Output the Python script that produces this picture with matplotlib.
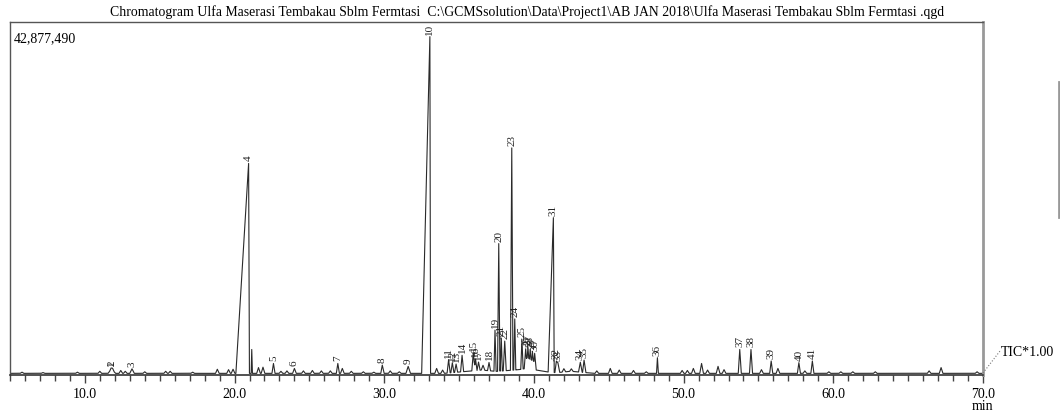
import numpy as np
import matplotlib
matplotlib.use("Agg")
import matplotlib.pyplot as plt
from matplotlib.lines import Line2D
from matplotlib.ticker import MultipleLocator, FormatStrFormatter

plt.rcParams["font.family"] = ["Liberation Serif", "DejaVu Serif"]

TITLE = ("Chromatogram Ulfa Maserasi Tembakau Sblm Fermtasi  "
         "C:\\GCMSsolution\\Data\\Project1\\AB JAN 2018\\"
         "Ulfa Maserasi Tembakau Sblm Fermtasi .qgd")
FULL_SCALE = 42877490

# numbered peaks: retention time (min), height (counts, millions)
peak_no = [1, 2, 3, 4, 5, 6, 7, 8, 9, 10,
           11, 12, 13, 14, 15, 16, 17, 18, 19, 20,
           21, 22, 23, 24, 25, 26, 27, 28, 29, 30,
           31, 32, 33, 34, 35, 36, 37, 38, 39, 40, 41]
peak_rt = [11.75, 11.85, 13.15, 20.94, 22.6, 24.0, 26.9, 29.87, 31.6, 33.05,
           34.3, 34.55, 34.8, 35.2, 35.95, 36.1, 36.3, 37.0, 37.4, 37.65,
           37.82, 38.05, 38.52, 38.72, 39.2, 39.45, 39.6, 39.75, 39.9, 40.05,
           41.3, 41.5, 41.6, 43.1, 43.35, 48.25, 53.75, 54.5, 55.85, 57.7, 58.6]
peak_h = [0.45, 0.4, 0.55, 25.5, 1.2, 0.6, 1.2, 1.0, 0.85, 40.9,
          1.6, 1.2, 1.0, 2.0, 2.2, 1.4, 1.0, 1.0, 5.0, 15.5,
          4.0, 3.6, 27.0, 6.2, 3.6, 2.4, 2.6, 2.4, 2.2, 2.0,
          18.8, 1.4, 1.2, 1.2, 1.5, 1.9, 2.9, 2.9, 1.5, 1.3, 1.5]
# front / tail half-widths (min)
peak_wl = [0.2, 0.2, 0.15, 0.85, 0.1, 0.12, 0.1, 0.1, 0.15, 0.55,
           0.1, 0.1, 0.1, 0.1, 0.1, 0.1, 0.1, 0.1, 0.07, 0.08,
           0.07, 0.1, 0.09, 0.07, 0.08, 0.1, 0.1, 0.1, 0.1, 0.1,
           0.35, 0.1, 0.1, 0.12, 0.1, 0.06, 0.1, 0.1, 0.1, 0.1, 0.1]
peak_wr = [0.2, 0.2, 0.15, 0.05, 0.1, 0.12, 0.1, 0.12, 0.15, 0.04,
           0.1, 0.1, 0.1, 0.1, 0.1, 0.1, 0.1, 0.1, 0.07, 0.08,
           0.07, 0.1, 0.08, 0.07, 0.08, 0.1, 0.1, 0.1, 0.1, 0.1,
           0.05, 0.1, 0.12, 0.12, 0.12, 0.06, 0.1, 0.1, 0.1, 0.1, 0.1]

# unlabelled small peaks and baseline ripples
minor_rt = [5.8, 7.2, 9.5, 11.0, 12.4, 12.7, 14.0, 15.4, 15.7, 17.2,
            18.85, 19.6, 19.9, 21.15, 21.6, 21.9, 23.1, 23.5, 24.6, 25.2,
            25.8, 26.4, 27.2, 27.8, 28.6, 29.3, 30.4, 31.0, 33.5, 33.9,
            36.6, 42.0, 42.5, 44.2, 45.1, 45.7, 46.65, 47.5, 49.9, 50.25,
            50.65, 51.2, 51.6, 52.3, 52.7, 55.2, 56.3, 58.1, 59.7, 60.5,
            61.3, 62.8, 66.4, 67.2, 69.6]
minor_h = [0.15, 0.1, 0.15, 0.25, 0.35, 0.25, 0.2, 0.25, 0.25, 0.15,
           0.5, 0.45, 0.5, 2.9, 0.7, 0.75, 0.25, 0.3, 0.3, 0.35,
           0.3, 0.3, 0.6, 0.25, 0.2, 0.15, 0.3, 0.2, 0.6, 0.4,
           0.6, 0.4, 0.3, 0.3, 0.6, 0.4, 0.35, 0.2, 0.35, 0.35,
           0.6, 1.2, 0.4, 0.85, 0.45, 0.45, 0.6, 0.3, 0.2, 0.2,
           0.2, 0.2, 0.3, 0.7, 0.2]

# broad humps under the crowded region
hump_rt = [36.5, 39.5, 42.5]
hump_h = [0.4, 0.6, 0.25]
hump_w = [2.5, 2.0, 1.5]
BASE = 0.2


def triangle(t, rt, h, wl, wr):
    left = np.clip(1 - (rt - t) / wl, 0, 1)
    right = np.clip(1 - (t - rt) / wr, 0, 1)
    return h * np.where(t < rt, left, right)


t = np.arange(5.0, 70.0001, 0.005)
sig = np.full_like(t, BASE)
for rt, h, wl, wr in zip(peak_rt, peak_h, peak_wl, peak_wr):
    sig += triangle(t, rt, h, wl, wr)
for rt, h in zip(minor_rt, minor_h):
    w = 0.04 if h > 2 else 0.12
    sig += triangle(t, rt, h, w, w)
for rt, h, w in zip(hump_rt, hump_h, hump_w):
    sig += triangle(t, rt, h, w, w)
sig = sig * 1e6

W, H = 1060, 417
fig = plt.figure(figsize=(W / 100, H / 100), dpi=100)
ax = fig.add_axes([10 / W, 1 - 375 / H, 973 / W, 353 / H])
ax.plot(t, sig, color="#2a2a2a", lw=0.8)
ax.set_xlim(5, 70)
ax.set_ylim(0, FULL_SCALE)

for n, rt in zip(peak_no, peak_rt):
    y = np.interp(rt, t, sig)
    ax.annotate(str(n), (rt, y), xytext=(0, 1.5), textcoords="offset points",
                rotation=90, ha="center", va="bottom", fontsize=8,
                color="#222222", annotation_clip=False)

ax.xaxis.set_major_locator(MultipleLocator(10))
ax.xaxis.set_minor_locator(MultipleLocator(1))
ax.xaxis.set_major_formatter(FormatStrFormatter("%.1f"))
ax.tick_params(axis="x", which="major", length=6, width=1, labelsize=10,
               color="#444444", pad=3.5)
ax.tick_params(axis="x", which="minor", length=4, width=1, color="#444444")
ax.set_yticks([])
for s in ["left", "top"]:
    ax.spines[s].set_color("#555555")
    ax.spines[s].set_linewidth(1)
ax.spines["bottom"].set_color("#333333")
ax.spines["bottom"].set_linewidth(1.2)
ax.spines["right"].set_color("#999999")
ax.spines["right"].set_linewidth(2)

ax.text(0.004, 0.97, f"{FULL_SCALE:,}", transform=ax.transAxes,
        ha="left", va="top", fontsize=10)
fig.text(527 / W, 1 - 12 / H, TITLE, ha="center", va="center", fontsize=9.9)
fig.text(983 / W, 1 - 407 / H, "min", ha="center", va="center", fontsize=10)
fig.text(1001 / W, 1 - 352 / H, "TIC*1.00", ha="left", va="center",
         fontsize=10)
fig.add_artist(Line2D([983 / W, 1000 / W], [1 - 373 / H, 1 - 351 / H],
                      color="#777777", lw=0.8, ls=":"))
fig.add_artist(Line2D([1059 / W, 1059 / W], [1 - 82 / H, 1 - 217 / H],
                      color="#999999", lw=2))

fig.savefig("out.png", dpi=100)
